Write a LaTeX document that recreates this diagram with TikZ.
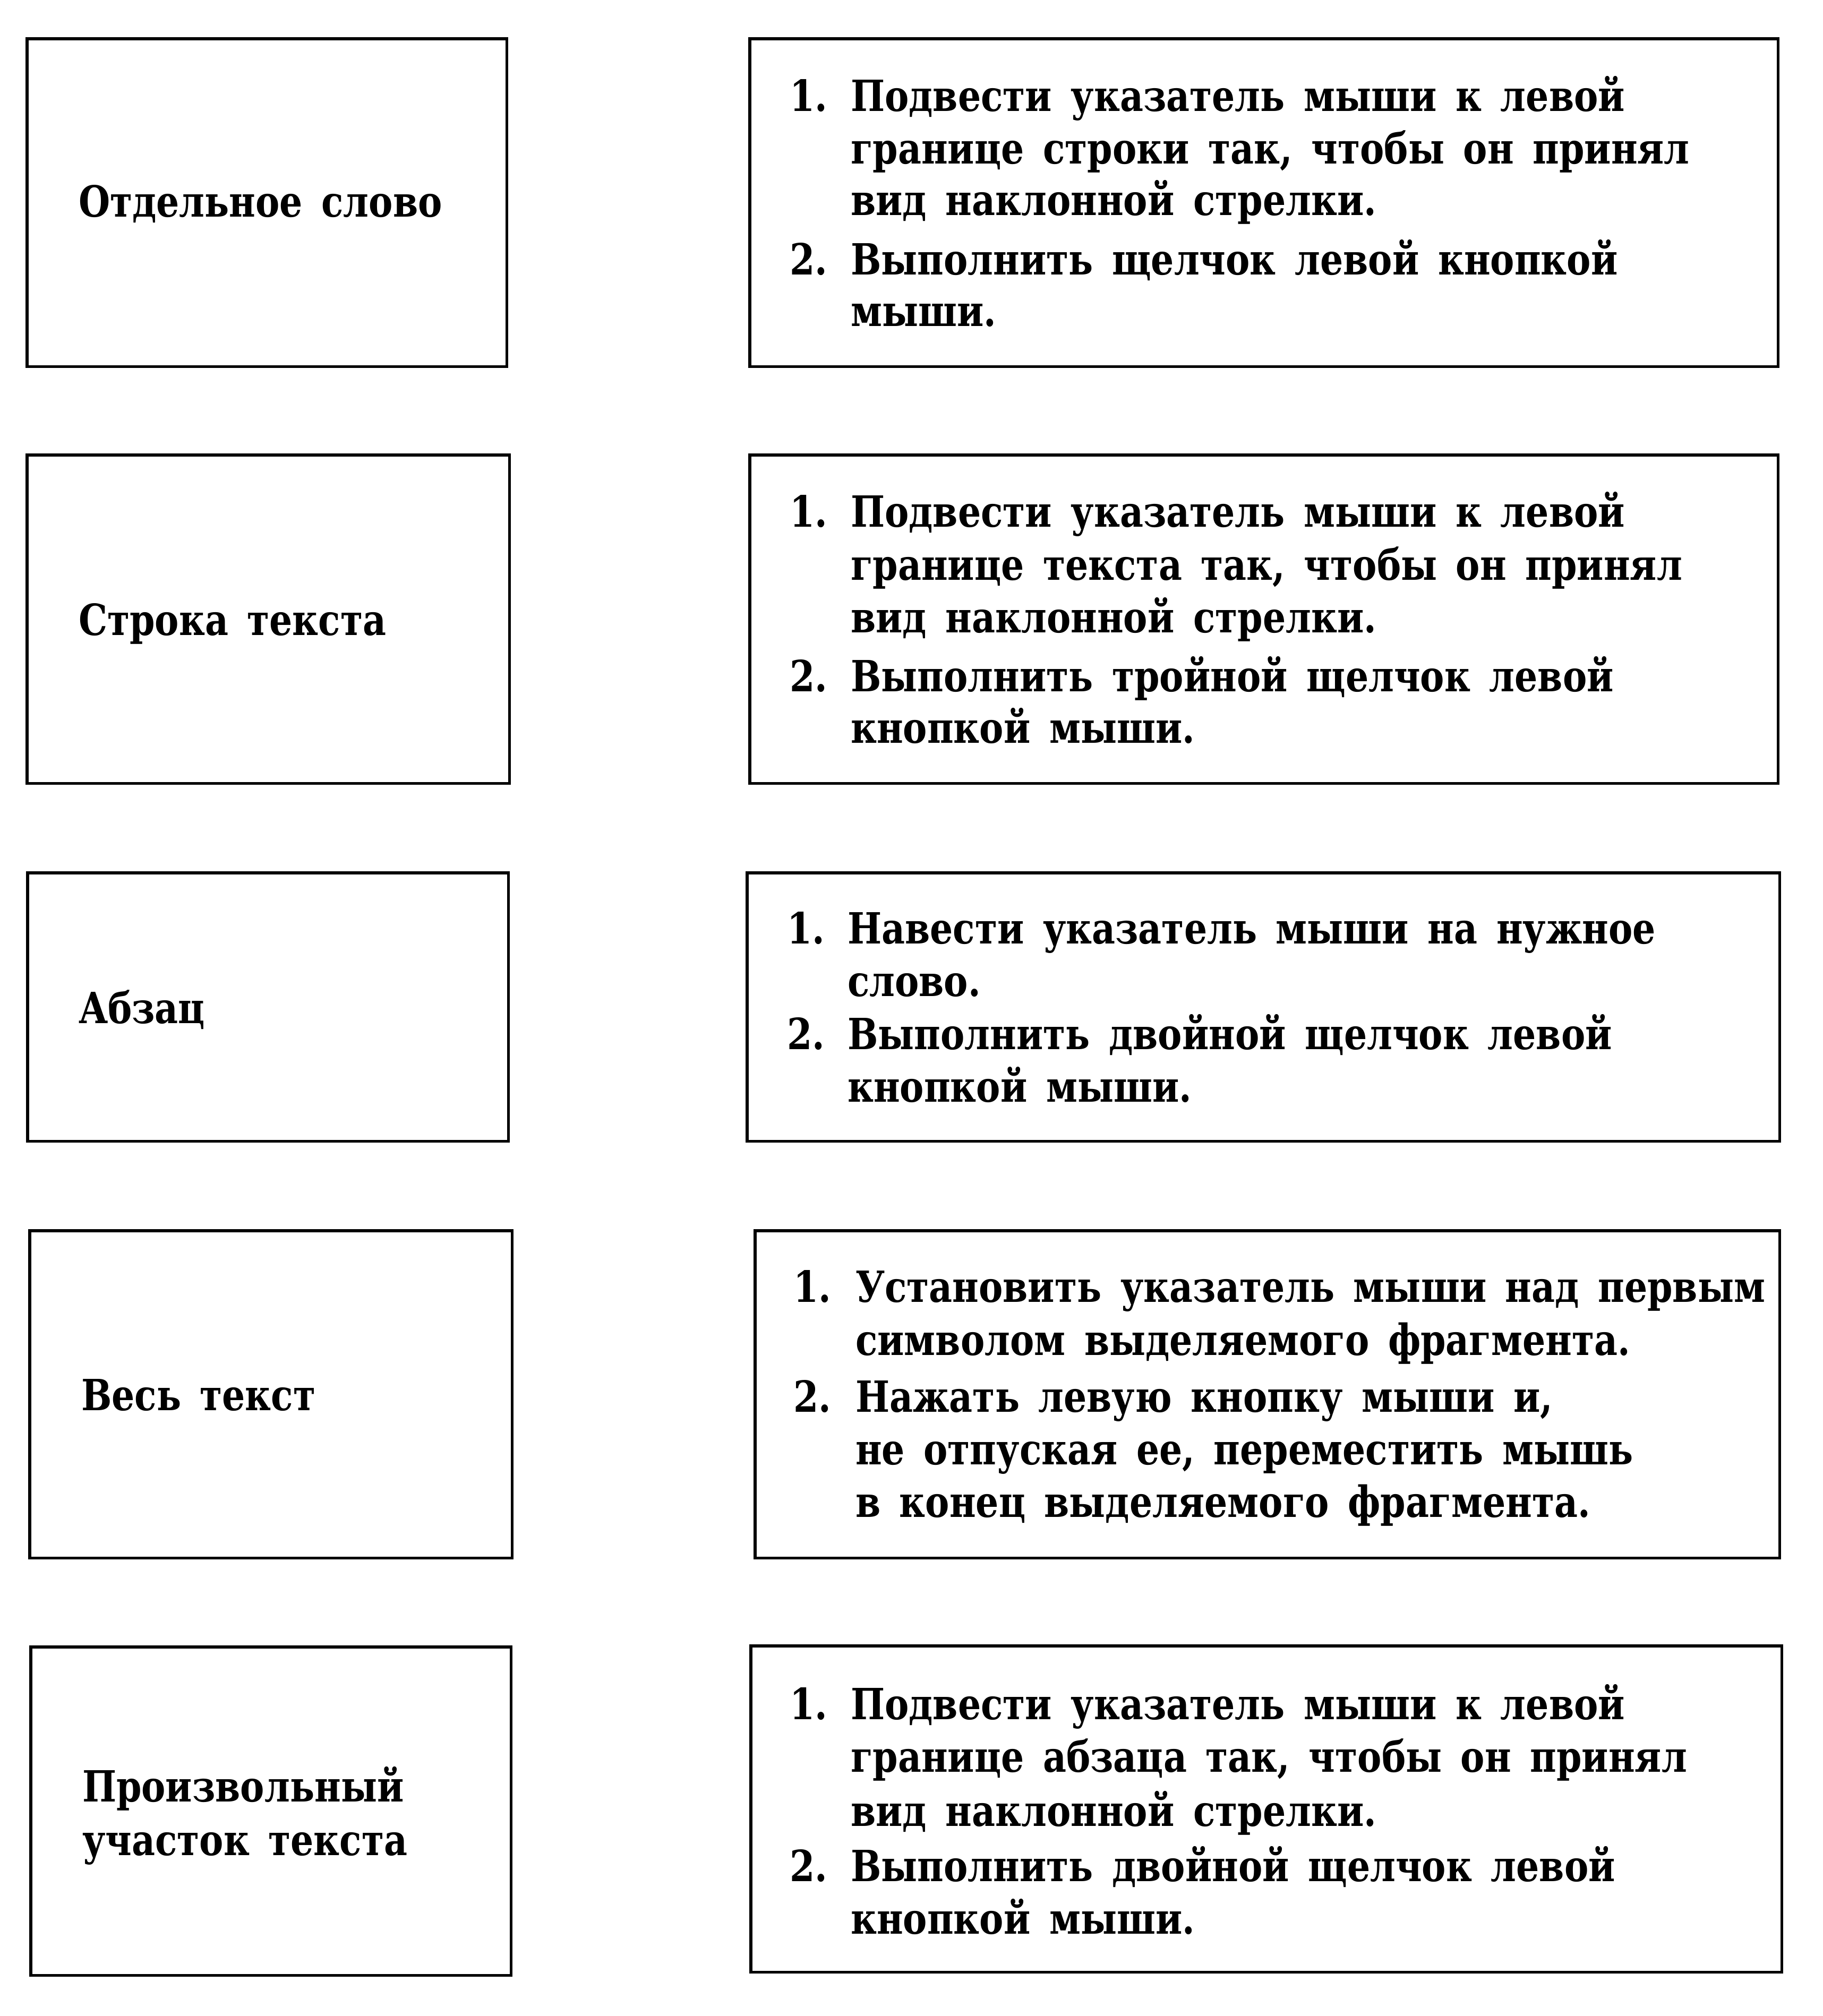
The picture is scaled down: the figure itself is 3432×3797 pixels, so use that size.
\documentclass[tikz,border=0pt]{standalone}
\usepackage{fontspec}
\setmainfont{DejaVu Serif}[BoldFont={DejaVu Serif Bold}, FakeStretch=0.84, WordSpace={1.5}]
\begin{document}
\begin{tikzpicture}[x=0.01cm, y=-0.01cm,
  box/.style={draw=black, line width=1.5pt, inner sep=0pt, outer sep=0pt, anchor=north west},
  txt/.style={inner sep=0pt, outer sep=0pt, anchor=base west, font=\fontsize{23}{28}\selectfont\bfseries}]
\useasboundingbox[fill=white] (0,0) rectangle (3432,3797);
% row 1
\node[box, minimum width=9.03cm, minimum height=6.17cm] (L1) at (51,73) {};
\node[box, minimum width=19.35cm, minimum height=6.17cm] (R1) at (1412,73) {};
\node[txt] (L1t) at (148,409) {Отдельное слово};
\node[txt] (R1n1) at (1487,210) {1.};
\node[txt] (R1a) at (1602,210) {Подвести указатель мыши к левой};
\node[txt] (R1b) at (1602,309) {границе строки так, чтобы он принял};
\node[txt] (R1c) at (1602,406) {вид наклонной стрелки.};
\node[txt] (R1n2) at (1487,518) {2.};
\node[txt] (R1d) at (1602,518) {Выполнить щелчок левой кнопкой};
\node[txt] (R1e) at (1602,614) {мыши.};
% row 2
\node[box, minimum width=9.08cm, minimum height=6.18cm] (L2) at (51,857) {};
\node[box, minimum width=19.35cm, minimum height=6.18cm] (R2) at (1412,857) {};
\node[txt] (L2t) at (148,1196) {Строка текста};
\node[txt] (R2n1) at (1487,992) {1.};
\node[txt] (R2a) at (1602,992) {Подвести указатель мыши к левой};
\node[txt] (R2b) at (1602,1092) {границе текста так, чтобы он принял};
\node[txt] (R2c) at (1602,1191) {вид наклонной стрелки.};
\node[txt] (R2n2) at (1487,1302) {2.};
\node[txt] (R2d) at (1602,1302) {Выполнить тройной щелчок левой};
\node[txt] (R2e) at (1602,1399) {кнопкой мыши.};
% row 3
\node[box, minimum width=9.05cm, minimum height=5.05cm] (L3) at (52,1644) {};
\node[box, minimum width=19.43cm, minimum height=5.05cm] (R3) at (1407,1644) {};
\node[txt] (L3t) at (148,1927) {Абзац};
\node[txt] (R3n1) at (1482,1777) {1.};
\node[txt] (R3a) at (1596,1777) {Навести указатель мыши на нужное};
\node[txt] (R3b) at (1596,1876) {слово.};
\node[txt] (R3n2) at (1482,1976) {2.};
\node[txt] (R3d) at (1596,1976) {Выполнить двойной щелчок левой};
\node[txt] (R3e) at (1596,2075) {кнопкой мыши.};
% row 4
\node[box, minimum width=9.08cm, minimum height=6.16cm] (L4) at (56,2318) {};
\node[box, minimum width=19.28cm, minimum height=6.16cm] (R4) at (1422,2318) {};
\node[txt] (L4t) at (153,2656) {Весь текст};
\node[txt] (R4n1) at (1494,2452) {1.};
\node[txt] (R4a) at (1611,2452) {Установить указатель мыши над первым};
\node[txt] (R4b) at (1611,2552) {символом выделяемого фрагмента.};
\node[txt] (R4n2) at (1494,2659) {2.};
\node[txt] (R4d) at (1611,2659) {Нажать левую кнопку мыши и,};
\node[txt] (R4e) at (1611,2758) {не отпуская ее, переместить мышь};
\node[txt] (R4f) at (1611,2857) {в конец выделяемого фрагмента.};
% row 5
\node[box, minimum width=9.04cm, minimum height=6.18cm] (L5) at (58,3102) {};
\node[box, minimum width=19.40cm, minimum height=6.14cm] (R5) at (1414,3100) {};
\node[txt] (L5a) at (155,3393) {Произвольный};
\node[txt] (L5b) at (155,3494) {участок текста};
\node[txt] (R5n1) at (1487,3238) {1.};
\node[txt] (R5a) at (1602,3238) {Подвести указатель мыши к левой};
\node[txt] (R5b) at (1602,3337) {границе абзаца так, чтобы он принял};
\node[txt] (R5c) at (1602,3439) {вид наклонной стрелки.};
\node[txt] (R5n2) at (1487,3543) {2.};
\node[txt] (R5d) at (1602,3543) {Выполнить двойной щелчок левой};
\node[txt] (R5e) at (1602,3642) {кнопкой мыши.};
\end{tikzpicture}
\end{document}
